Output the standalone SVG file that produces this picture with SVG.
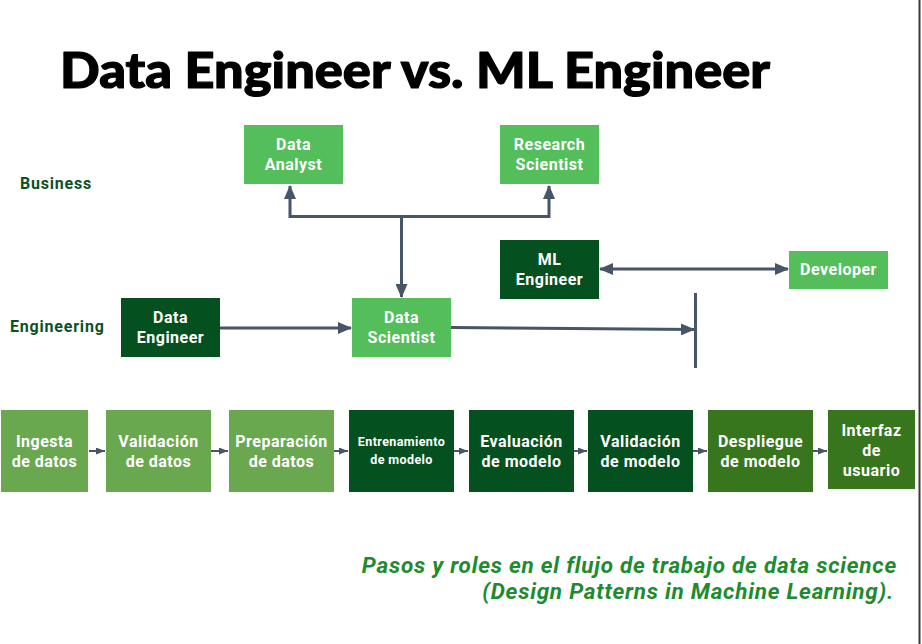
<svg xmlns="http://www.w3.org/2000/svg" width="922" height="644" viewBox="0 0 922 644">
<style>
.t{font-family:Roboto,"Liberation Sans",sans-serif;font-weight:bold;fill:#fff;text-anchor:middle;font-size:16px;letter-spacing:0.5px}
.s{font-size:12.5px;letter-spacing:0.4px}
.lbl{font-family:Roboto,"Liberation Sans",sans-serif;font-weight:bold;fill:#0b5125;font-size:16px;letter-spacing:0.8px}
.cap{font-family:Roboto,"Liberation Sans",sans-serif;font-weight:bold;font-style:italic;font-size:22.5px;letter-spacing:0.75px;fill:#1f8b2f;text-anchor:end}
.bright{fill:#53be5a}
.dark{fill:#04501f}
.light{fill:#6aa84f}
.mid{fill:#38761d}
.c{stroke:#475569;stroke-width:3;fill:none}
.cs{stroke:#475569;stroke-width:2;fill:none}
</style>
<defs>
<marker id="ah" markerUnits="userSpaceOnUse" markerWidth="14" markerHeight="12" refX="13" refY="6" orient="auto-start-reverse"><path d="M0,0 L14,6 L0,12 Z" fill="#475569"/></marker>
<marker id="as" markerUnits="userSpaceOnUse" markerWidth="9" markerHeight="7" refX="9" refY="3.5" orient="auto"><path d="M0,0 L9,3.5 L0,7 Z" fill="#475569"/></marker>
</defs>
<rect width="922" height="644" fill="#fff"/>
<line x1="919.5" y1="0" x2="919.5" y2="644" stroke="#3a3a3a" stroke-width="2"/>
<text x="60" y="88" font-family="Lato,'Liberation Sans',sans-serif" font-weight="900" font-size="50" fill="#000" stroke="#000" stroke-width="1.2" stroke-linejoin="round" textLength="710" lengthAdjust="spacingAndGlyphs">Data Engineer vs. ML Engineer</text>
<text class="lbl" x="20" y="189">Business</text>
<text class="lbl" x="10" y="332">Engineering</text>
<g id="connectors">
<polyline class="c" points="290,186 290,216.5 549,216.5 549,186" marker-start="url(#ah)" marker-end="url(#ah)"/>
<line class="c" x1="401.5" y1="216.5" x2="401.5" y2="297" marker-end="url(#ah)"/>
<line class="c" x1="220" y1="328" x2="351" y2="328" marker-end="url(#ah)"/>
<line class="c" x1="451" y1="327.5" x2="694" y2="329.5" marker-end="url(#ah)"/>
<line class="c" x1="695.5" y1="293" x2="695.5" y2="368"/>
<line class="c" x1="600" y1="269" x2="788" y2="269" marker-start="url(#ah)" marker-end="url(#ah)"/>
<line class="cs" x1="89" y1="451" x2="105" y2="451" marker-end="url(#as)"/>
<line class="cs" x1="211" y1="451" x2="228" y2="451" marker-end="url(#as)"/>
<line class="cs" x1="334" y1="451" x2="348" y2="451" marker-end="url(#as)"/>
<line class="cs" x1="454" y1="451" x2="468" y2="451" marker-end="url(#as)"/>
<line class="cs" x1="574" y1="451" x2="587" y2="451" marker-end="url(#as)"/>
<line class="cs" x1="693" y1="451" x2="707" y2="451" marker-end="url(#as)"/>
<line class="cs" x1="813" y1="451" x2="827" y2="451" marker-end="url(#as)"/>
</g>
<g id="data-analyst"><rect class="bright" x="244" y="125" width="99" height="59"/><text class="t" x="293.5" y="150">Data</text><text class="t" x="293.5" y="170">Analyst</text></g>
<g id="research-scientist"><rect class="bright" x="500" y="125" width="99" height="59"/><text class="t" x="549.5" y="150">Research</text><text class="t" x="549.5" y="170">Scientist</text></g>
<g id="ml-engineer"><rect class="dark" x="500" y="240" width="99" height="59"/><text class="t" x="549.5" y="265">ML</text><text class="t" x="549.5" y="285">Engineer</text></g>
<g id="developer"><rect class="bright" x="789" y="251" width="99" height="38"/><text class="t" x="838.5" y="275">Developer</text></g>
<g id="data-engineer"><rect class="dark" x="121" y="298" width="99" height="59"/><text class="t" x="170.5" y="323">Data</text><text class="t" x="170.5" y="343">Engineer</text></g>
<g id="data-scientist"><rect class="bright" x="352" y="298" width="99" height="59"/><text class="t" x="401.5" y="323">Data</text><text class="t" x="401.5" y="343">Scientist</text></g>
<g id="ingesta"><rect class="light" x="1" y="410" width="87" height="82"/><text class="t" x="44.5" y="446.5">Ingesta</text><text class="t" x="44.5" y="466.5">de datos</text></g>
<g id="validacion-datos"><rect class="light" x="106" y="410" width="105" height="82"/><text class="t" x="158.5" y="446.5">Validación</text><text class="t" x="158.5" y="466.5">de datos</text></g>
<g id="preparacion"><rect class="light" x="229" y="410" width="105" height="82"/><text class="t" x="281.5" y="446.5">Preparación</text><text class="t" x="281.5" y="466.5">de datos</text></g>
<g id="entrenamiento"><rect class="dark" x="349" y="410" width="105" height="82"/><text class="t s" x="401.5" y="446">Entrenamiento</text><text class="t s" x="401.5" y="464">de modelo</text></g>
<g id="evaluacion"><rect class="dark" x="469" y="410" width="105" height="82"/><text class="t" x="521.5" y="446.5">Evaluación</text><text class="t" x="521.5" y="466.5">de modelo</text></g>
<g id="validacion-modelo"><rect class="dark" x="588" y="410" width="105" height="82"/><text class="t" x="640.5" y="446.5">Validación</text><text class="t" x="640.5" y="466.5">de modelo</text></g>
<g id="despliegue"><rect class="mid" x="708" y="410" width="105" height="82"/><text class="t" x="760.5" y="446.5">Despliegue</text><text class="t" x="760.5" y="466.5">de modelo</text></g>
<g id="interfaz"><rect class="mid" x="828" y="410" width="87" height="79"/><text class="t" x="871.5" y="436">Interfaz</text><text class="t" x="871.5" y="456">de</text><text class="t" x="871.5" y="476">usuario</text></g>
<text class="cap" x="897" y="573">Pasos y roles en el flujo de trabajo de data science</text>
<text class="cap" x="894" y="599">(Design Patterns in Machine Learning).</text>
</svg>
